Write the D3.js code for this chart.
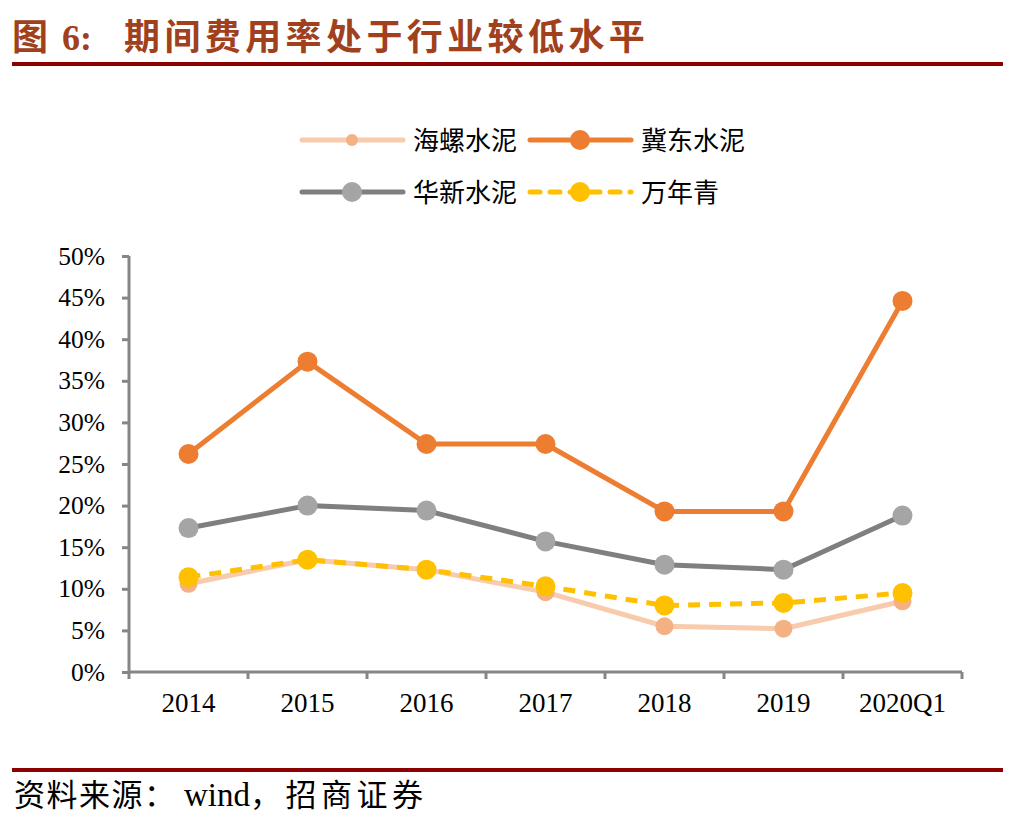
<!DOCTYPE html>
<html>
<head>
<meta charset="utf-8">
<script src="https://cdn.jsdelivr.net/npm/d3@7"></script>
<style>
  body { margin: 0; background: #fff; }
  svg { display: block; }
</style>
</head>
<body>
<div id="chart"></div>
<script>
// categories and series
const categories = ["2014", "2015", "2016", "2017", "2018", "2019", "2020Q1"];
const yTicks = [0, 5, 10, 15, 20, 25, 30, 35, 40, 45, 50];

const haiLuo   = [10.6, 13.5, 12.3, 9.6, 5.5, 5.2, 8.5];
const jiDong   = [26.2, 37.3, 27.4, 27.4, 19.3, 19.3, 44.6];
const huaXin   = [17.3, 20.0, 19.4, 15.7, 12.9, 12.3, 18.8];
const wanNianQ = [11.4, 13.5, 12.3, 10.3, 8.0, 8.3, 9.5];

const series = [
  { name: "海螺水泥", values: haiLuo,   line: "#F8CBAD", dot: "#F4B183", r: 9,  legR: 6,  dash: null },
  { name: "冀东水泥", values: jiDong,   line: "#ED7D31", dot: "#ED7D31", r: 10, legR: 10, dash: null },
  { name: "华新水泥", values: huaXin,   line: "#7F7F7F", dot: "#A5A5A5", r: 10, legR: 10, dash: null },
  { name: "万年青",   values: wanNianQ, line: "#FFC000", dot: "#FFC000", r: 10, legR: 10, dash: "12,9" }
];

const width = 1010, height = 830;
const cjk = "'Noto Sans CJK SC', sans-serif";
const serif = "'Liberation Serif', 'Times New Roman', serif";

const svg = d3.select("#chart").append("svg")
  .attr("width", width)
  .attr("height", height);

// title
const title = svg.append("g").attr("fill", "#A0401C").attr("font-weight", "bold");
title.append("text").attr("x", 12).attr("y", 50)
  .attr("font-family", cjk).attr("font-size", 36).text("图");
title.append("text").attr("x", 62).attr("y", 50)
  .attr("font-family", serif).attr("font-size", 36).text("6:");
title.append("text").attr("x", 124).attr("y", 50)
  .attr("font-family", cjk).attr("font-size", 36).attr("letter-spacing", 4.4)
  .text("期间费用率处于行业较低水平");

// rules
svg.append("rect").attr("x", 12).attr("y", 62).attr("width", 991).attr("height", 4).attr("fill", "#8B0000");
svg.append("rect").attr("x", 12).attr("y", 768).attr("width", 991).attr("height", 4).attr("fill", "#8B0000");

// source note
const foot = svg.append("g").attr("fill", "#000");
foot.append("text").attr("x", 14).attr("y", 806)
  .attr("font-family", cjk).attr("font-size", 31).attr("letter-spacing", 1.5)
  .text("资料来源：");
foot.append("text").attr("x", 184).attr("y", 806)
  .attr("font-family", serif).attr("font-size", 33)
  .text("wind");
foot.append("text").attr("x", 250).attr("y", 806)
  .attr("font-family", cjk).attr("font-size", 31).attr("letter-spacing", 4.5)
  .text("，招商证券");

// scales
const x = d3.scaleBand().domain(categories).range([129, 962]);
const y = d3.scaleLinear().domain([0, 50]).range([672, 256]);

const axisColor = "#868686";

const yAxis = svg.append("g")
  .attr("transform", "translate(129,0)")
  .call(d3.axisLeft(y).tickValues(yTicks).tickSize(7).tickPadding(17).tickFormat(d => d + "%"));

const xAxis = svg.append("g")
  .attr("transform", "translate(0,672)")
  .call(d3.axisBottom(x).tickSize(0));

// tick marks on the x axis sit at the band edges
xAxis.selectAll(".edge")
  .data(categories.map(c => x(c)).concat([x.range()[1]]))
  .enter().append("line")
  .attr("class", "edge")
  .attr("x1", d => d).attr("x2", d => d)
  .attr("y1", 0).attr("y2", 7);

[yAxis, xAxis].forEach(g => {
  g.select(".domain").attr("stroke", axisColor).attr("stroke-width", 3);
  g.selectAll("line").attr("stroke", axisColor).attr("stroke-width", 3);
  g.selectAll("text").attr("font-family", serif).attr("fill", "#000");
});
yAxis.selectAll("text").attr("font-size", 25.5);
xAxis.selectAll("text").attr("font-size", 27).attr("y", 40).attr("dy", 0);
yAxis.select(".domain").attr("d", "M0,672V256");
xAxis.select(".domain").attr("d", "M129,0H962");

// lines and markers
const line = d3.line()
  .x((d, i) => x(categories[i]) + x.bandwidth() / 2)
  .y(d => y(d));

series.forEach(s => {
  const g = svg.append("g");
  g.append("path")
    .datum(s.values)
    .attr("d", line)
    .attr("fill", "none")
    .attr("stroke", s.line)
    .attr("stroke-width", 5)
    .attr("stroke-linejoin", "round")
    .attr("stroke-dasharray", s.dash);
  g.selectAll("circle")
    .data(s.values)
    .enter().append("circle")
    .attr("cx", (d, i) => x(categories[i]) + x.bandwidth() / 2)
    .attr("cy", d => y(d))
    .attr("r", s.r)
    .attr("fill", s.dot);
});

// legend, 2 x 2
const legPos = [[302, 140], [530, 140], [302, 192], [530, 192]];
series.forEach((s, i) => {
  const [lx, ly] = legPos[i];
  const g = svg.append("g").attr("transform", `translate(${lx},${ly})`);
  g.append("line")
    .attr("x1", 0).attr("x2", 101).attr("y1", 0).attr("y2", 0)
    .attr("stroke", s.line).attr("stroke-width", 5)
    .attr("stroke-linecap", "round")
    .attr("stroke-dasharray", s.dash ? "10,10" : null);
  g.append("circle").attr("cx", 50).attr("cy", 0).attr("r", s.legR).attr("fill", s.dot);
  g.append("text")
    .attr("x", 111).attr("y", 10)
    .attr("font-family", cjk)
    .attr("font-size", 26)
    .attr("fill", "#000")
    .text(s.name);
});
</script>
</body>
</html>
